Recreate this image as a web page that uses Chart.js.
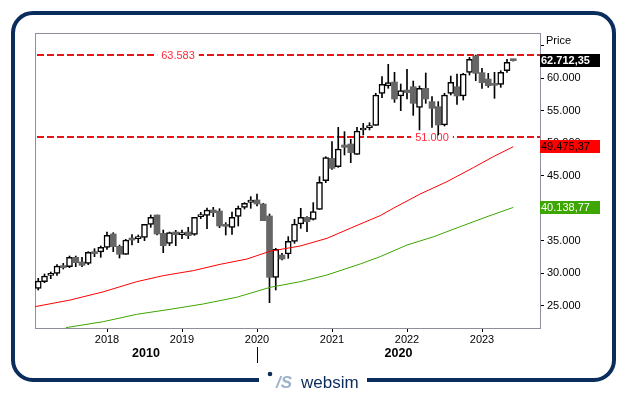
<!DOCTYPE html>
<html lang="en">
<head>
<meta charset="UTF-8">
<title>Price chart</title>
<script src="https://cdn.jsdelivr.net/npm/chart.js"></script>
<style>
  html, body { margin: 0; padding: 0; background: #fff; }
  #wrap { width: 629px; height: 395px; }
</style>
</head>
<body>
<div id="wrap"><canvas id="mychart" width="629" height="395"></canvas></div>
<script>
// monthly candles, month index 0 = Jan 2018, first candle Feb 2017
const firstMonth = -11;
const opens = [27690,28710,29690,30000,31120,31020,32460,31740,31530,33280,33280,34000,36050,34150,32920,35330,35330,35530,37530,38970,
  36150,34610,36350,35950,36350,36000,38710,38920,39740,39580,37430,37070,38760,40150,40920,41280,40660,38820,29380,32820,
  32970,34920,37580,38610,38300,39840,44250,47690,46410,49740,49890,48300,52050,52400,52760,57690,58820,59430,57280,58200,
  58710,55530,58460,56410,55640,52820,57690,58710,57280,60920,63430,60870,59890,59120,59070,61170,62800];
const highs = [29230,29890,30200,31330,31530,32660,32660,32460,33330,33790,34200,36350,36250,34350,35230,35940,35890,37530,38970,38970,
  36660,36350,36610,36660,37070,38610,39380,40050,40150,39940,37790,39430,40350,40870,41790,42200,40760,39120,33840,33070,
  35640,38300,40000,38710,40870,44870,47940,50250,52460,51790,50610,52460,53070,53170,57690,60250,62150,60920,59120,61380,
  59580,58820,60820,57170,56410,57690,60350,60660,60760,63230,63580,61530,60760,60920,61170,62920,62850];
const lows = [27430,28560,29170,29690,30660,30870,31020,31020,31330,32560,32460,33690,33330,32350,32920,34350,34710,35020,37070,35890,
  33170,34250,34250,35330,35330,35840,38410,36870,38710,37020,35890,36000,37280,39890,40000,40350,38100,25480,27430,32050,
  32300,34610,36920,36410,38200,39840,43940,46000,46300,48200,47020,48300,51280,52050,52760,57020,58460,56300,55020,56820,
  54300,52050,56150,52460,51280,52660,57430,56000,56660,60510,59640,58460,58610,56920,58610,60920,62650];
const closes = [28820,29590,29890,31120,30870,32460,31640,31230,33230,33020,34000,35840,34100,32920,35120,35120,35530,37530,38610,36050,
  34250,36250,35940,36050,35790,38610,38920,39740,39330,37280,37230,38610,40000,40760,41280,40660,38100,29380,33690,32200,
  34920,37580,38610,37940,39480,44000,47790,46150,49120,49380,48560,51890,52300,52460,57430,59070,59330,56820,58100,57790,
  56150,58460,56820,55380,52820,57430,59380,57280,60660,62920,60760,59330,58870,58920,60920,62460,62712];

// moving averages (month index, value)
const redMonths = [-11.5,-5.9,-0.6,4.75,9.0,13.8,18.1,22.4,26.1,30.9,35.2,38.9,43.7,45.8,50.1,54.4,58.6,61.8,65];
const redValues = [24870,25890,27150,28710,29640,30410,31380,32200,33400,34200,35380,36920,38870,40000,42200,44100,46250,47940,49475];
const greenMonths = [-6.56,-0.6,4.75,10.1,15.4,20.7,26.1,30.9,35.2,40.5,43.7,48.0,52.3,56.5,60.8,65];
const greenValues = [21640,22560,23690,24460,25280,26300,27840,28710,29740,31430,32560,34350,35640,37170,38710,40139];

const yearTicks = [2018, 2019, 2020, 2021, 2022, 2023];
const decadeLabels = ['2010', '2020'];
const levelValues = [63583, 51000];
const levelLabels = ['63.583', '51.000'];
const lastValues = [62712.35, 49475.37, 40138.77];
const priceTicks = [25000, 30000, 35000, 40000, 45000, 50000, 55000, 60000, 65000];

const FONT = '"Liberation Sans", Arial, sans-serif';
Chart.defaults.font.family = FONT;
Chart.defaults.font.size = 11;
Chart.defaults.color = '#000';

const months = closes.map((_, i) => firstMonth + i);
const up = closes.map((c, i) => c >= opens[i]);

function fmtBox(v) {
  const parts = v.toFixed(2).split('.');
  return parts[0].replace(/\B(?=(\d{3})+(?!\d))/g, '.') + ',' + parts[1];
}

const overlay = {
  id: 'overlay',
  beforeDatasetsDraw(chart) {
    const { ctx, chartArea: a, scales: { y } } = chart;
    ctx.save();
    // top and left border of the plot
    ctx.fillStyle = '#8e8e9c';
    ctx.fillRect(a.left, a.top, 1, a.bottom - a.top);
    ctx.fillRect(a.left, a.top, a.right - a.left, 1);
    // dashed levels, drawn as small rects so they stay crisp
    const labelX = [178, 432];
    levelValues.forEach((v, i) => {
      const py = Math.round(y.getPixelForValue(v)) - 1;
      ctx.fillStyle = 'rgb(228, 22, 22)';
      for (let px = a.left + 2; px < a.right; px += 10) {
        ctx.fillRect(px, py, Math.min(7, a.right - px), 2);
      }
      ctx.font = '11px ' + FONT;
      const w = ctx.measureText(levelLabels[i]).width;
      ctx.fillStyle = '#fff';
      ctx.fillRect(labelX[i] - w / 2 - 4, py - 5, w + 8, 12);
      ctx.fillStyle = '#ff2a3a';
      ctx.textAlign = 'center';
      ctx.textBaseline = 'middle';
      ctx.fillText(levelLabels[i], labelX[i], py + 2);
    });
    ctx.restore();
  },
  afterDraw(chart) {
    const { ctx, chartArea: a, scales: { x, y } } = chart;
    ctx.save();
    // axis title
    ctx.font = '11px ' + FONT;
    ctx.fillStyle = '#fff';
    ctx.fillRect(544, 33, 44, 18);
    ctx.fillStyle = '#000';
    ctx.textAlign = 'left';
    ctx.textBaseline = 'middle';
    ctx.fillText('Price', 546, 41);
    // last value boxes
    const boxBg = ['#000000', '#ff0000', '#3ea600'];
    const boxFg = ['#ffffff', '#000000', '#ffffff'];
    const boxFont = ['bold 11px ', '11px ', '11px '];
    lastValues.forEach((v, i) => {
      const py = y.getPixelForValue(v);
      ctx.fillStyle = boxBg[i];
      ctx.fillRect(a.right, Math.round(py - 6.5), 60, 13);
      ctx.fillStyle = boxFg[i];
      ctx.font = boxFont[i] + FONT;
      ctx.fillText(fmtBox(v), a.right + 1, py + 0.5);
    });
    // decade labels and separator
    const sep = x.getPixelForValue((2020 - 2018) * 12);
    ctx.font = 'bold 12.5px ' + FONT;
    ctx.textAlign = 'center';
    ctx.fillStyle = '#000';
    ctx.fillText(decadeLabels[0], (a.left + sep) / 2, 354);
    ctx.fillText(decadeLabels[1], (sep + a.right) / 2, 354);
    ctx.fillRect(Math.round(sep), 347, 1, 16);
    // outer frame
    ctx.strokeStyle = '#0b2d5c';
    ctx.lineWidth = 4;
    ctx.beginPath();
    ctx.roundRect(13, 13, 601, 367, 20);
    ctx.stroke();
    ctx.fillStyle = '#fff';
    ctx.fillRect(259, 374, 108, 12);
    // logo
    ctx.fillStyle = '#0b2d5c';
    ctx.beginPath();
    ctx.arc(270, 374, 2.3, 0, Math.PI * 2);
    ctx.fill();
    ctx.fillStyle = '#9db2cc';
    ctx.font = 'italic bold 17px ' + FONT;
    ctx.textAlign = 'left';
    ctx.textBaseline = 'alphabetic';
    ctx.fillText('/S', 276, 388);
    ctx.fillStyle = '#0b2d5c';
    ctx.font = '17px ' + FONT;
    ctx.fillText('websim', 301, 388);
    ctx.restore();
  }
};

new Chart(document.getElementById('mychart'), {
  data: {
    datasets: [
      {
        type: 'bar',
        data: months.map((m, i) => ({ x: m, y: [lows[i], highs[i]] })),
        backgroundColor: '#000',
        barThickness: 1,
        grouped: false,
        order: 3
      },
      {
        type: 'bar',
        data: months.map((m, i) => ({ x: m, y: [opens[i], closes[i]] })),
        backgroundColor: up.map(u => u ? '#ffffff' : '#666666'),
        borderColor: up.map(u => u ? '#000000' : '#666666'),
        borderWidth: up.map(u => u ? 1.5 : 0),
        borderSkipped: false,
        barThickness: 6,
        minBarLength: 2,
        grouped: false,
        order: 2
      },
      {
        type: 'line',
        data: redMonths.map((m, i) => ({ x: m, y: redValues[i] })),
        borderColor: '#ff0000',
        borderWidth: 1,
        pointRadius: 0,
        order: 1
      },
      {
        type: 'line',
        data: greenMonths.map((m, i) => ({ x: m, y: greenValues[i] })),
        borderColor: '#3ea600',
        borderWidth: 1,
        pointRadius: 0,
        order: 1
      }
    ]
  },
  options: {
    responsive: false,
    animation: false,
    layout: { padding: { left: 35, top: 33, right: 0, bottom: 0 } },
    plugins: { legend: { display: false }, tooltip: { enabled: false } },
    scales: {
      x: {
        type: 'linear',
        min: -11.52,
        max: 69.28,
        offset: false,
        grid: { offset: false, drawOnChartArea: false, tickLength: 4, tickColor: '#000' },
        border: { display: true, color: '#8e8e9c' },
        ticks: { padding: 1, maxRotation: 0, callback: v => String(2018 + v / 12) },
        afterBuildTicks: s => { s.ticks = yearTicks.map(yr => ({ value: (yr - 2018) * 12 })); },
        afterFit: s => { s.height = 67; }
      },
      y: {
        position: 'right',
        min: 21585,
        max: 66970,
        grid: { drawOnChartArea: false, tickLength: 4, tickColor: '#000' },
        border: { display: true, color: '#8e8e9c' },
        ticks: { padding: 3, callback: v => (v / 1000).toFixed(3) },
        afterBuildTicks: s => { s.ticks = priceTicks.map(v => ({ value: v })); },
        afterFit: s => { s.width = 89; }
      }
    }
  },
  plugins: [overlay]
});
</script>
</body>
</html>
